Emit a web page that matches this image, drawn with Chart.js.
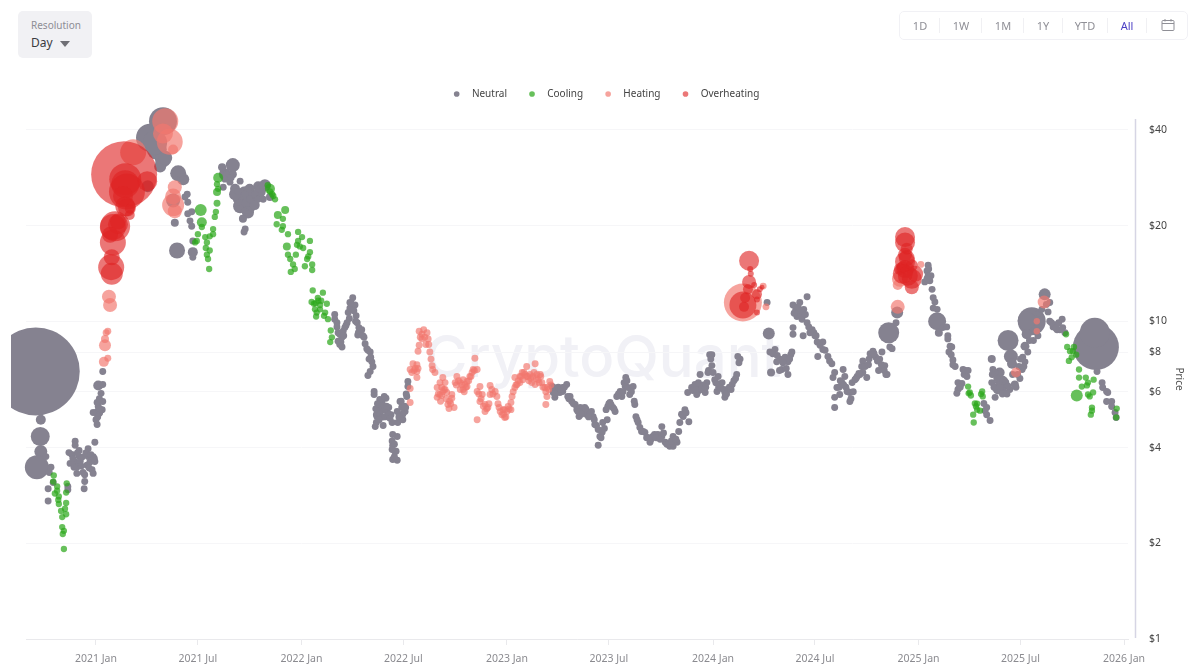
<!DOCTYPE html>
<html>
<head>
<meta charset="utf-8">
<title>Price by market state</title>
<script src="https://cdn.jsdelivr.net/npm/chart.js@4"></script>
<style>
html, body { margin: 0; padding: 0; background: #fff; font-family: "Noto Sans", sans-serif; }
#wrap { position: relative; width: 1200px; height: 672px; overflow: hidden; }
#watermark { position: absolute; left: 425px; top: 321px; font: 500 58px "Inter", sans-serif; color: #f1f1f6; white-space: nowrap; }
canvas { position: absolute; left: 0; top: 0; }
#resolution { position: absolute; left: 18px; top: 11px; width: 74px; height: 47px; background: #f1f1f4; border-radius: 5px; }
#resolution .cap { position: absolute; left: 13px; top: 7px; font-size: 10px; color: #8d8d95; }
#resolution .val { position: absolute; left: 13px; top: 23px; font-size: 12px; color: #3a3a3e; }
#resolution .arrow { position: absolute; left: 42px; top: 30px; width: 0; height: 0; border-left: 5px solid transparent; border-right: 5px solid transparent; border-top: 6px solid #6f6f75; }
#ranges { position: absolute; left: 899px; top: 11px; width: 287px; height: 27px; border: 1px solid #f1f1f5; border-radius: 5px; }
#ranges span { position: absolute; top: 6px; font-size: 11px; color: #8f8f96; transform: translateX(-50%); }
#ranges span.on { color: #4b3fc4; }
#ranges i { position: absolute; top: 6px; width: 1px; height: 15px; background: #f0f0f3; }
#ranges svg { position: absolute; left: 261px; top: 6px; }
</style>
</head>
<body>
<div id="wrap">
	<div id="watermark">CryptoQuant</div>
	<canvas id="chart" width="1200" height="672"></canvas>
	<div id="resolution"><div class="cap">Resolution</div><div class="val">Day</div><div class="arrow"></div></div>
	<div id="ranges">
		<span style="left:20px">1D</span><i style="left:39px"></i>
		<span style="left:61px">1W</span><i style="left:81px"></i>
		<span style="left:103px">1M</span><i style="left:123px"></i>
		<span style="left:143px">1Y</span><i style="left:162px"></i>
		<span style="left:185px">YTD</span><i style="left:207px"></i>
		<span class="on" style="left:227px">All</span><i style="left:246px"></i>
		<svg width="14" height="14" viewBox="0 0 14 14" fill="none" stroke="#8f8f96" stroke-width="1"><rect x="1" y="2.5" width="12" height="10" rx="1"/><path d="M1 5.5H13M4 1V3.5M10 1V3.5"/></svg>
	</div>
</div>
<script>
// x values are days counted from 2021-01-01
const tickDays = [0, 181, 365, 546, 730, 911, 1096, 1277, 1461, 1642, 1826];
const tickNames = ['2021 Jan', '2021 Jul', '2022 Jan', '2022 Jul', '2023 Jan', '2023 Jul', '2024 Jan', '2024 Jul', '2025 Jan', '2025 Jul', '2026 Jan'];
const priceTicks = [1, 2, 4, 6, 8, 10, 20, 40];

// neutral, ordinary days
const neutral2020Days = [-89,-80,-83,-76,-85,-85,-50,-50,
	-37,-37,-30,-14,-48,-43,-30,-25,-46,-37,-28,-14,
	-5,-2,-11,-16,-39,-34,-23,-20,-7,-5,-20,-21,-2,-34,
	2,0,4,-5,11,4,2,12,9,4,12,12,
	-41,-33,-26,-18,-12,-9,-3,3,7,6];
const neutral2020Prices = [3.75,3.47,3.34,3.11,2.97,2.72,2.95,3.02,
	4.19,4.07,3.92,3.97,3.86,3.81,3.75,3.73,3.57,3.6,3.62,3.75,
	3.75,3.62,3.6,3.52,3.47,3.32,3.34,3.29,3.41,3.32,3.13,2.97,4.16,3.47,
	4.73,4.9,5.16,5.16,5.27,5.39,5.55,5.59,5.93,6.28,6.32,6.95,
	3.7,3.85,3.5,3.85,3.45,3.8,3.7,5.0,5.3,5.7];

const neutral2021Days = [163,170,167,170,172,162,163,158,155,172,
	224,233,243,256,238,226,229,261,265,263,
	297,252,265,282,273,256,265,240,288,270];
const neutral2021Prices = [21.8,22.1,20.7,19.9,17.9,25.1,23.7,24.6,28,15.9,
	30.5,29,29,27.6,27.4,26.4,28,21.1,19.5,19.1,
	24.2,25.6,25.1,25.1,24.2,22.6,22.2,28.3,24.2,21.8];

const neutral2022Days = [424,424,428,430,433,437,430,433,437,439,
	446,442,448,451,451,456,460,462,464,467,
	472,465,476,481,487,485,490,492,487,483,
	494,494,503,515,508,501,499,496,510,520,
	517,519,526,540,543,550,554,554,552,540,
	545,536,527,535,527,531,527,535,506,512,
	504,512,498,524,549,535,
	428,435,440,444,450,453,458,461,466,469,
	474,478,483,488,497,500,505,509,513,516,
	520,498,503,522,542,545,548,551,538,526,
	530,533,526,530];
const neutral2022Prices = [10.5,10.15,9.6,9.2,9.1,8.9,8.65,8.45,8.3,9.3,
	9.9,9.55,10.65,11,11.45,11.85,11.25,10.4,9.9,9.55,
	9.4,9.05,8.9,8.2,8,7.6,7.45,7.2,6.95,6.75,
	6.01,5.88,5.47,5.72,5.55,5.2,5.01,4.66,4.7,5.35,
	5.2,5.01,4.8,5.59,5.35,5.35,6.46,6.23,5.8,5.08,
	4.9,4.8,4.4,4.34,4.07,3.89,3.67,3.65,5.35,5.27,
	5.67,5.8,5.08,5.08,5.2,5.2,
	9.9,8.6,9,9.7,10.2,11.4,10.8,10,9.2,9.3,
	9,8.5,8.1,7.7,5.3,5.5,5.1,5,5,5.4,
	5.1,4.8,4.9,4.95,5.6,5.1,5.4,5.9,5,4.2,
	4.1,3.9,3.95,3.75];

const neutral2023Days = [810,812,815,819,824,829,836,829,838,845,
	851,854,860,858,865,868,872,877,883,886,
	892,899,895,892,900,908,906,913,909,918,
	922,925,931,934,940,941,945,954,948,957,
	959,963,966,975,980,984,989,998,1005,1005,
	1011,1019,1025,1032,1025,1028,1037,1046,1053,1043,
	1058,1073,1082,1073,1085,1069,1090,1094,1087,1105,
	1112,1103,1117,1122,1130,1138,1117,1144,1140,1051,
	1064,1108,1099,1094,1067,
	812,816,821,826,832,840,842,848,856,862,
	870,875,880,885,889,897,903,911,915,920,
	928,936,938,943,951,956,961,969,972,978,
	986,992,995,1002,1008,1014,1017,1022,1030,1035,
	1040,1048,1060,1066,1070,1076,1079,1083,1088,1092,
	1096,1101,1106,1110,1115,1120,1125,1128,1133,1136,1142];
const neutral2023Prices = [6.23,5.97,5.76,6.01,5.97,6.19,6.32,6.01,5.8,5.59,
	5.47,5.27,5.35,5.01,5.2,5.35,5.08,5.16,5.01,4.73,
	4.56,4.47,4.34,4.07,4.8,4.9,5.27,5.55,5.39,5.35,
	5.2,5.8,6.01,5.8,6.23,6.65,6.19,6.23,5.88,5.47,
	5.01,4.8,4.63,4.47,4.31,4.16,4.34,4.4,4.34,4.66,
	4.16,4.04,4.34,4.16,4.04,4.19,4.8,5.27,4.83,5.01,
	6.19,6.23,5.97,6.8,6.41,6.01,7.85,7.25,6.9,6.7,
	6.41,6.01,5.97,6.1,6.32,6.8,5.76,7.6,7.75,5.97,
	6.32,6.32,6.55,7.85,5.88,
	6.2,5.9,6.2,6.1,6.2,5.7,5.8,5.5,5.2,5.1,
	5.3,5,5.2,4.9,4.7,4.3,4.6,5.5,5.45,5.3,
	5.9,6,6.4,6.5,6,5.6,4.9,4.5,4.5,4.3,
	4.25,4.4,4.3,4.25,4.45,4.1,4.1,4.2,4.25,4.5,
	5.1,5.15,6.05,6.1,6.4,6.1,6.3,6.2,7,7.6,
	6.9,6.4,6.2,6.15,6.1,5.9,6.2,6.1,6.5,6.6,7.4];

const neutral2024Days = [1192,1197,1206,1215,1209,1229,1234,1229,1218,1224,
	1238,1250,1263,1245,1238,1238,1256,1250,1263,1272,
	1277,1281,1291,1291,1282,1300,1307,1243,1257,1254,
	1309,1327,1330,1325,1316,1312,1312,1334,1339,1343,
	1339,1352,1362,1369,1362,1380,1392,1398,1405,1378,
	1414,1396,1401,1403,1357,1348,1373,1385,1321,1421,
	1202,1210,1220,1214,1226,1232,1236,1240,1247,1253,
	1260,1266,1268,1275,1279,1286,1295,1303,1312,1320,
	1322,1328,1332,1336,1341,1345,1350,1355,1360,1366,
	1372,1375,1382,1388,1390,1395,1400,1410];
const neutral2024Prices = [11.45,8,8.15,7.6,7.45,7.45,7.85,6.8,7.05,7.7,
	11.25,11.45,11.95,10.35,9.55,9.1,9,10.5,9.9,9.4,
	9,8.6,8.6,8.15,7.75,7.75,7.35,10.9,10.9,10.15,
	6.65,7.05,6.7,6.41,6.19,5.76,5.35,6.01,5.97,6.41,
	5.59,6.7,6.9,6.65,7.5,8.05,7.6,7.2,6.8,7.85,
	8.2,8,7.25,6.8,6.8,6.55,7.6,7.7,5.88,9.9,
	7.9,7.8,7.4,7,7.1,7.6,8,10.6,11.1,10.8,
	10.5,9.6,9.2,9.2,9,8.4,8.1,7.5,6.9,6.2,
	6.5,6.3,6.2,6,5.7,6,6.6,6.85,7.2,7.2,
	7.3,7.9,7.9,7.5,7,7.3,7,8.3];

const neutral2025Days = [1478,1476,1478,1472,1481,1485,1487,1490,1487,1494,
	1479,1483,1476,1504,1511,1513,1513,1517,1520,1515,
	1519,1522,1526,1540,1542,1547,1531,1538,1531,1529,
	1534,1577,1582,1582,1588,1579,1593,1597,1591,1597,
	1602,1597,1614,1616,1605,1611,1623,1641,1646,1650,
	1645,1637,1673,1694,1691,1694,1700,1707,1716,1717,
	1721,1703,1712,1778,1787,1788,1795,1797,1795,1804,
	1804,1810,1812,
	1592,1595,1600,1606,1610,1618,1620,1628,1634,1639,
	1642,1648,1655,1658,1665,1668,1675,1680,1688,1697,
	1705,1710,1522,1535,1544,1549];
const neutral2025Prices = [15,14.4,13.9,13.3,13.4,12.6,11.85,11.5,11,10.9,
	14.6,13.9,13.6,9.55,9.6,9,8.8,8.35,8.3,8,
	7.85,7.55,7.2,7.05,6.8,6.7,6.41,6.37,6.1,5.93,
	6.23,5.51,5.35,5.08,4.87,5.23,7.05,6.9,6.41,6.19,
	6.1,5.76,5.97,6.41,6.55,6.1,6.1,6.6,7.7,7.45,
	7.05,6.8,9,11.45,10.7,10,9.6,9.4,10.15,9.55,
	9.2,9.75,9.4,6.95,6.41,6.19,6.01,5.97,5.59,5.59,
	5.39,5.16,4.98,
	6.8,6.2,6.6,6.2,5.9,5.9,6.25,6.8,6.2,7.2,
	7.6,7.2,8,8.7,8.7,9.3,10.6,10.9,11.3,9.9,
	9.5,9.9,7.3,6.2,7,7];

// neutral, days with heavy volume
const neutralLargeDays = [-107,-99,-98,-98,-105,4,4,119,96,108,
	119,114,146,155,140,144,172,92,137,243,
	265,273,279,288,273,252,243,1195,1199,1408,
	1423,1494,1497,1591,1605,1609,1602,1620,1625,1627,
	1632,1662,1653,1653,1650,1685,1776,1774,
	105,123,265,256,273,270,291,300,247,229,
	224,261,309,247,282];
const neutralLargePrices = [6.95,4.34,4.9,3.89,3.47,5.16,6.28,42.6,37.8,34.7,
	32.3,30.7,29.2,28,20.4,16.7,16.5,26.6,24,31,
	23.7,22.6,24.2,26.6,26.1,24.2,29,9.15,6.9,9.2,
	10.65,10,9.2,7.6,6.9,6.41,6.1,8.7,7.75,7.35,
	6.32,10,10.05,9.1,8.35,12.15,8.3,9.2,
	36.5,32.7,25.1,23,23.5,22,25.6,26.8,26.1,29,
	30.5,21,24.6,25.1,23.2];
const neutralLargeVolumes = [1936,90,25,42,144,25,25,196,196,100,
	64,36,64,36,16,64,25,36,49,49,
	49,25,25,25,25,25,16,36,16,110,
	36,81,16,16,25,49,25,110,49,25,
	16,196,81,25,20,36,529,225,
	144,49,64,49,64,36,36,36,25,36,
	16,16,16,36,25];

// cooling
const coolingDays = [-75,-76,-69,-69,-73,-66,-67,-66,-62,-55,
	-53,-60,-60,-57,-59,-57,-52,-53,-53,
	188,181,179,176,194,202,197,208,208,202,
	195,197,199,201,213,211,217,215,
	318,305,313,332,321,332,330,341,341,345,
	350,353,346,359,366,359,362,368,380,357,
	355,380,377,375,384,371,384,
	385,403,394,387,398,410,389,392,391,398,
	407,412,405,417,419,416,
	1549,1550,1554,1574,1575,1561,1565,1558,1570,1559,
	1552,1563,1723,1725,1730,1737,1733,1728,1741,1735,
	1746,1746,1758,1772,1762,1751,1760,1771,1765,1762,
	1769,1767,1769,1813,1812,
	309,315,395,400,390,383,1565,1572];
const coolingPrices = [3.27,3.13,3.02,2.93,2.87,2.81,2.74,2.66,2.53,2.57,
	2.47,2.42,2.25,2.19,2.14,1.92,3.09,2.89,2.68,
	19.8,18.8,17.9,17.7,18.4,18.5,17.7,19.5,18.8,16.7,
	17,16.2,15.7,14.6,22.1,21.3,26.1,27,
	24.2,26.8,25.1,21,20.2,19.9,19.4,18.8,16.2,15.7,
	15.1,14.6,14.3,19.1,18.4,17.9,17.2,17,17.9,17.4,
	16.2,16.5,16,15.7,15.1,14.9,14.5,
	12.5,12.3,11.85,11.35,11.25,11.35,10.9,10.65,10.35,10.9,
	10.65,10.15,10.4,9.35,8.9,8.6,
	6.23,5.93,5.84,6.01,5.8,5.51,5.27,5.08,5.23,4.8,
	5.97,5.39,9.1,8.3,8.05,8.3,7.7,7.5,7.85,8.05,
	7.05,6.65,6.65,6.55,6.41,6.23,6.28,5.97,5.8,5.88,
	5.35,5.08,5.23,5.31,4.98,
	25.6,24.8,11.6,11.6,11.4,11.5,5.5,5.9];
const coolingLargeDays = [186,188,217,215,215,309,336,323,339,1742];
const coolingLargePrices = [22.4,20.5,28.3,25.5,23.5,26.1,22.4,21.6,17.2,5.84];
const coolingLargeVolumes = [36,25,25,16,12,25,16,16,16,36];

// heating
const heatingDays = [558,563,570,567,570,561,570,558,558,
	574,579,588,584,579,574,572,586,591,593,595,597,598,602,
	616,611,606,614,606,614,623,632,632,625,627,620,620,
	641,638,647,652,652,659,664,670,673,677,668,659,
	677,682,686,682,691,696,691,677,700,703,700,709,712,
	716,723,721,730,726,732,737,739,744,748,744,753,757,765,
	767,774,776,780,783,785,792,797,801,799,806,804,
	762,771,753,758,765,789,780,737,726,611,616,647,655,
	21,18,21,1465,1190,1185,
	565,572,576,582,590,608,612,618,622,628,
	630,636,640,644,650,654,657,662,666,672,
	680,684,688,694,698,705,714,718,724,728,
	734,741,746,750,755,760,769,772,778,782,
	787,790,794,799,802,808];
const heatingPrices = [7.05,7.35,7.3,7.1,6.95,6.9,6.65,6.14,5.55,
	9.3,9.1,9.2,8.9,8.8,8.4,8.05,8.45,8.45,8,7.6,7.25,7.05,6.9,
	6.65,6.41,6.19,6.19,5.76,5.84,5.97,5.88,5.72,5.47,5.31,6.41,6.1,
	6.7,6.41,6.41,6.55,6.1,6.23,6.7,7.05,7.65,7.05,6.9,6.46,
	6.01,6.23,5.88,5.59,5.47,5.35,5.2,4.9,6.28,6.1,5.88,6.01,5.8,
	5.35,5.27,5.08,5.2,4.98,5.39,5.55,5.8,6.19,6.32,6.65,6.7,6.9,7.2,
	6.7,6.41,6.7,7.35,6.8,6.55,6.41,6.19,5.8,5.47,6.46,6.1,
	6.8,6.8,6.41,6.55,6.7,6.8,6.32,5.27,5.27,5.88,6.01,6.1,6.32,
	7.65,9.2,9.3,15.1,11.1,12.9,
	7,7.1,8.9,9.4,8.8,5.9,5.6,6.1,5.7,5.6,
	5.5,5.35,6.3,6.5,6.3,6,6.2,6.5,6.7,7,
	5.9,5.7,5.4,5.3,5.5,5.9,5.5,5.2,5.1,5,
	5.3,6,6.3,6.5,6.7,6.9,6.5,6.6,6.9,6.6,
	6.4,6.7,6.2,6,6.2,6.3];
const heatingLargeDays = [23,25,16,16,14,66,123,131,119,137,
	140,137,140,137,1149,1424,1428,1424,1634,1684,1671,1671];
const heatingLargePrices = [11.95,11.25,8.4,8.8,7.45,34,42.6,36.7,39,34.7,
	26.4,23.2,22.2,24.7,11.45,13,13.6,11.1,6.9,11.5,10,9.3];
const heatingLargeVolumes = [49,49,36,16,25,169,169,169,100,25,
	49,121,49,64,361,25,64,49,25,42,10,10];

// overheating
const overheatingDays = [50,52,55,52,60,34,30,39,30,27,28,28,91,
	52,48,55,60,39,25,
	1149,1151,1160,1162,1163,1160,1158,1153,1174,1179,1174,1183,1174,1169,
	1437,1437,1437,1437,1433,1449,1449,1440,1433,
	1437,1442,1455,1428,1449,1440];
const overheatingPrices = [29,28,25.6,23,22.6,19.9,19.8,20.2,17.7,14.8,14.1,15.9,27.6,
	27,24.8,22.8,21.6,20.6,18.7,
	11.25,11.1,15.5,14.6,14.1,13.3,12.6,11.85,12.15,12.6,11.7,12.8,10.65,13,
	18.4,17.7,16.2,15.4,14.1,13.6,12.8,16.9,14.8,
	14.6,13.9,14.1,14.6,15,15.8];
const overheatingVolumes = [1089,256,324,100,25,225,169,100,169,169,121,64,100,
	196,100,81,25,64,64,
	182,25,100,9,9,49,25,25,25,9,9,6,9,9,
	100,100,49,100,100,100,49,36,36,
	81,100,64,36,36,64];

function toPoints(days, prices, volumes, usualVolume) {
	const pts = [];
	for (let i = 0; i < days.length; i++) {
		const v = volumes ? volumes[i] : usualVolume;
		pts.push({ x: days[i], y: prices[i], r: Math.sqrt(v) });
	}
	return pts;
}

const neutralPoints = [].concat(
	toPoints(neutralLargeDays, neutralLargePrices, neutralLargeVolumes),
	toPoints(neutral2020Days, neutral2020Prices, null, 12),
	toPoints(neutral2021Days, neutral2021Prices, null, 12),
	toPoints(neutral2022Days, neutral2022Prices, null, 12),
	toPoints(neutral2023Days, neutral2023Prices, null, 12),
	toPoints(neutral2024Days, neutral2024Prices, null, 12),
	toPoints(neutral2025Days, neutral2025Prices, null, 12)
);
const coolingPoints = toPoints(coolingLargeDays, coolingLargePrices, coolingLargeVolumes)
	.concat(toPoints(coolingDays, coolingPrices, null, 10));
const heatingPoints = toPoints(heatingLargeDays, heatingLargePrices, heatingLargeVolumes)
	.concat(toPoints(heatingDays, heatingPrices, null, 12));
const overheatingPoints = toPoints(overheatingDays, overheatingPrices, overheatingVolumes);

// lets the big bubbles spill past the plot edges like the original
const bubbleClip = { left: 15, top: 30, right: 10, bottom: 0 };

// the price axis line sits a little to the right of the plot
// and the legend needs a bit more room under it
const chartTweaks = {
	id: 'chartTweaks',
	beforeUpdate(chart) {
		if (chart.legend && !chart.legend.tallFit) {
			const fit = chart.legend.fit;
			chart.legend.fit = function() {
				fit.call(this);
				this.height += 10;
			};
			chart.legend.tallFit = true;
		}
	},
	afterDraw(chart) {
		const ctx = chart.ctx, area = chart.chartArea;
		ctx.save();
		ctx.strokeStyle = '#d6d5e4';
		ctx.lineWidth = 1.5;
		ctx.beginPath();
		ctx.moveTo(area.right + 7.5, area.top);
		ctx.lineTo(area.right + 7.5, area.bottom - 1);
		ctx.stroke();
		ctx.restore();
	}
};

new Chart(document.getElementById('chart'), {
	type: 'bubble',
	plugins: [chartTweaks],
	data: {
		datasets: [
			{ label: '  Neutral', data: neutralPoints, backgroundColor: 'rgb(133,130,144)', borderWidth: 0, order: 4, clip: bubbleClip },
			{ label: '  Cooling', data: coolingPoints, backgroundColor: 'rgba(44,168,28,0.72)', borderWidth: 0, order: 3, clip: bubbleClip },
			{ label: '  Heating', data: heatingPoints, backgroundColor: 'rgba(241,120,110,0.68)', borderWidth: 0, order: 2, clip: bubbleClip },
			{ label: '  Overheating', data: overheatingPoints, backgroundColor: 'rgba(222,36,36,0.62)', borderWidth: 0, order: 1, clip: bubbleClip }
		]
	},
	options: {
		responsive: false,
		animation: false,
		layout: { autoPadding: false, padding: { left: 26, right: 15, top: 69, bottom: 0 } },
		plugins: {
			tooltip: { enabled: false },
			legend: {
				position: 'top',
				labels: {
					usePointStyle: true,
					pointStyle: 'circle',
					boxHeight: 4,
					boxWidth: 11,
					padding: 20,
					color: '#444',
					font: { family: '"Noto Sans"', size: 10 },
					sort: (a, b) => a.datasetIndex - b.datasetIndex
				}
			}
		},
		scales: {
			x: {
				type: 'linear',
				min: -124.3,
				max: 1833,
				afterBuildTicks(scale) { scale.ticks = tickDays.map(d => ({ value: d })); },
				afterFit(scale) { scale.height = 33; },
				grid: { drawOnChartArea: false, tickLength: 6, color: '#e9e9ec' },
				border: { color: '#e9e9ec' },
				ticks: {
					autoSkip: false,
					maxRotation: 0,
					padding: 8,
					color: '#8b8b90',
					font: { family: '"Noto Sans"', size: 10.5 },
					callback(value) { return tickNames[tickDays.indexOf(value)]; }
				}
			},
			y: {
				type: 'logarithmic',
				position: 'right',
				min: 1,
				max: 43.3,
				afterBuildTicks(scale) { scale.ticks = priceTicks.map(p => ({ value: p })); },
				afterFit(scale) { scale.width = 57; },
				grid: { drawTicks: false, color: '#f6f6f8' },
				border: { display: false },
				ticks: {
					padding: 21,
					color: '#444',
					font: { family: '"Noto Sans"', size: 10.5 },
					callback(value) { return '$' + value; }
				},
				title: { display: true, text: 'Price', color: '#555', padding: 0, font: { family: '"Noto Sans"', size: 10 } }
			}
		}
	}
});
</script>
</body>
</html>
